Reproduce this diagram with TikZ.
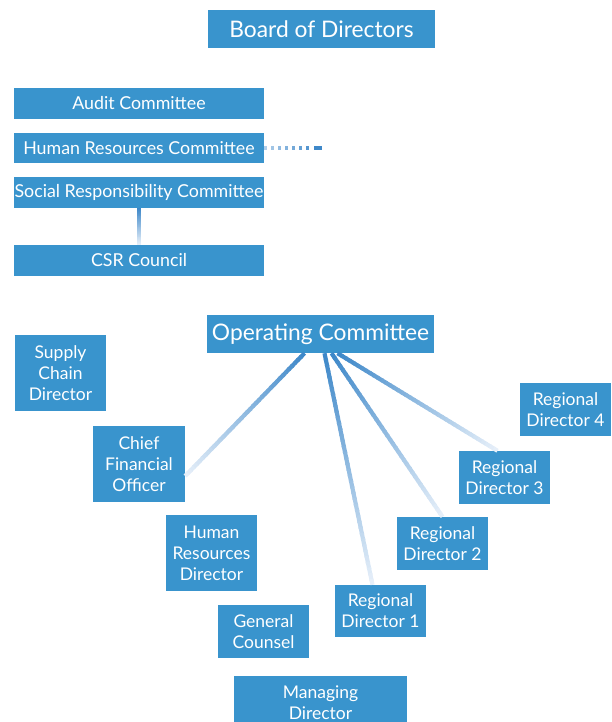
\documentclass[tikz,border=0pt]{standalone}
\usepackage{fontspec}
\setmainfont{Lato}
\usetikzlibrary{calc}
\definecolor{boxblue}{RGB}{57,148,205}
\definecolor{lineDark}{RGB}{62,136,201}
\definecolor{linePale}{RGB}{230,239,249}
\tikzset{
  box/.style={fill=boxblue, text=white, inner sep=0pt, align=center,
    font=\fontsize{17.5}{21}\selectfont},
  bigbox/.style={box, minimum width=227pt, minimum height=38pt,
    font=\fontsize{22.8}{26}\selectfont},
  wide/.style={box, minimum width=250pt, minimum height=31pt,
    font=\fontsize{17.8}{21}\selectfont},
  small/.style={box, minimum width=91pt, minimum height=53pt},
  tall/.style={box, minimum width=91pt, minimum height=76pt},
  gseg/.style={line width=4pt},
}
\newcommand\gradline[3]{%
  \foreach \i in {0,...,39}{%
    \pgfmathsetmacro\ga{\i/40}%
    \pgfmathsetmacro\gb{min(1,(\i+1.3)/40)}%
    \pgfmathsetmacro\gp{100-\i*100/39}%
    \draw[gseg, line width=#3, color=lineDark!\gp!linePale] ($(#1)!\ga!(#2)$) -- ($(#1)!\gb!(#2)$);
  }%
}
\begin{document}
\begin{tikzpicture}[x=1pt,y=-1pt]
\useasboundingbox (0,0) rectangle (611,722);

\node[bigbox] (board) at (321.5,28.9) {Board of Directors};

\node[wide] (audit) at (139,103.5) {Audit Committee};
\node[wide, minimum height=30pt] (hrc) at (139,148) {Human Resources Committee};
\node[wide] (src) at (139,192.5) {Social Responsibility Committee};
\node[wide] (csr) at (139,260.5) {CSR Council};

\node[bigbox] (op) at (320.5,334) {Operating Committee};

\node[tall] (scd) at (60.5,373) {Supply\\Chain\\Director};
\node[tall, minimum width=92pt] (cfo) at (139,464) {Chief\\Financial\\Officer};
\node[tall] (hrd) at (211.5,553) {Human\\Resources\\Director};
\node[small] (gc) at (263.5,631.5) {General\\Counsel};
\node[small, minimum width=173pt] (md) at (320.5,702.5) {Managing\\Director};

\node[small, minimum height=52pt] (rd1) at (380.5,611) {Regional\\Director 1};
\node[small] (rd2) at (442.5,543.5) {Regional\\Director 2};
\node[small] (rd3) at (504.5,477.5) {Regional\\Director 3};
\node[small] (rd4) at (565.5,409.5) {Regional\\Director 4};

% SRC -> CSR connector
\gradline{src.south}{csr.north}{4pt}

% dotted line from HR Committee
\foreach \k in {0,...,6}{%
  \pgfmathsetmacro\dp{32+\k*9}%
  \fill[lineDark!\dp!linePale] ($(hrc.east)+(7*\k,-2)$) rectangle ($(hrc.east)+(7*\k+2.8,2.2)$);
}
\fill[lineDark] ($(hrc.east)+(50,-2)$) rectangle ($(hrc.east)+(57.7,2.2)$);

% Operating committee connectors
\coordinate (s1) at ([xshift=-16pt]op.south);
\coordinate (e1) at ([yshift=-12pt]cfo.east);
\coordinate (s2) at ([xshift=4pt]op.south);
\coordinate (e2) at ([xshift=-8pt]rd1.north);
\coordinate (s3) at ([xshift=11pt]op.south);
\coordinate (e3) at (rd2.north);
\coordinate (s4) at ([xshift=17pt]op.south);
\coordinate (e4) at ([xshift=-7pt]rd3.north);
\gradline{s1}{e1}{4.2pt}
\gradline{s2}{e2}{4.2pt}
\gradline{s3}{e3}{4.2pt}
\gradline{s4}{e4}{4.2pt}
\end{tikzpicture}
\end{document}
